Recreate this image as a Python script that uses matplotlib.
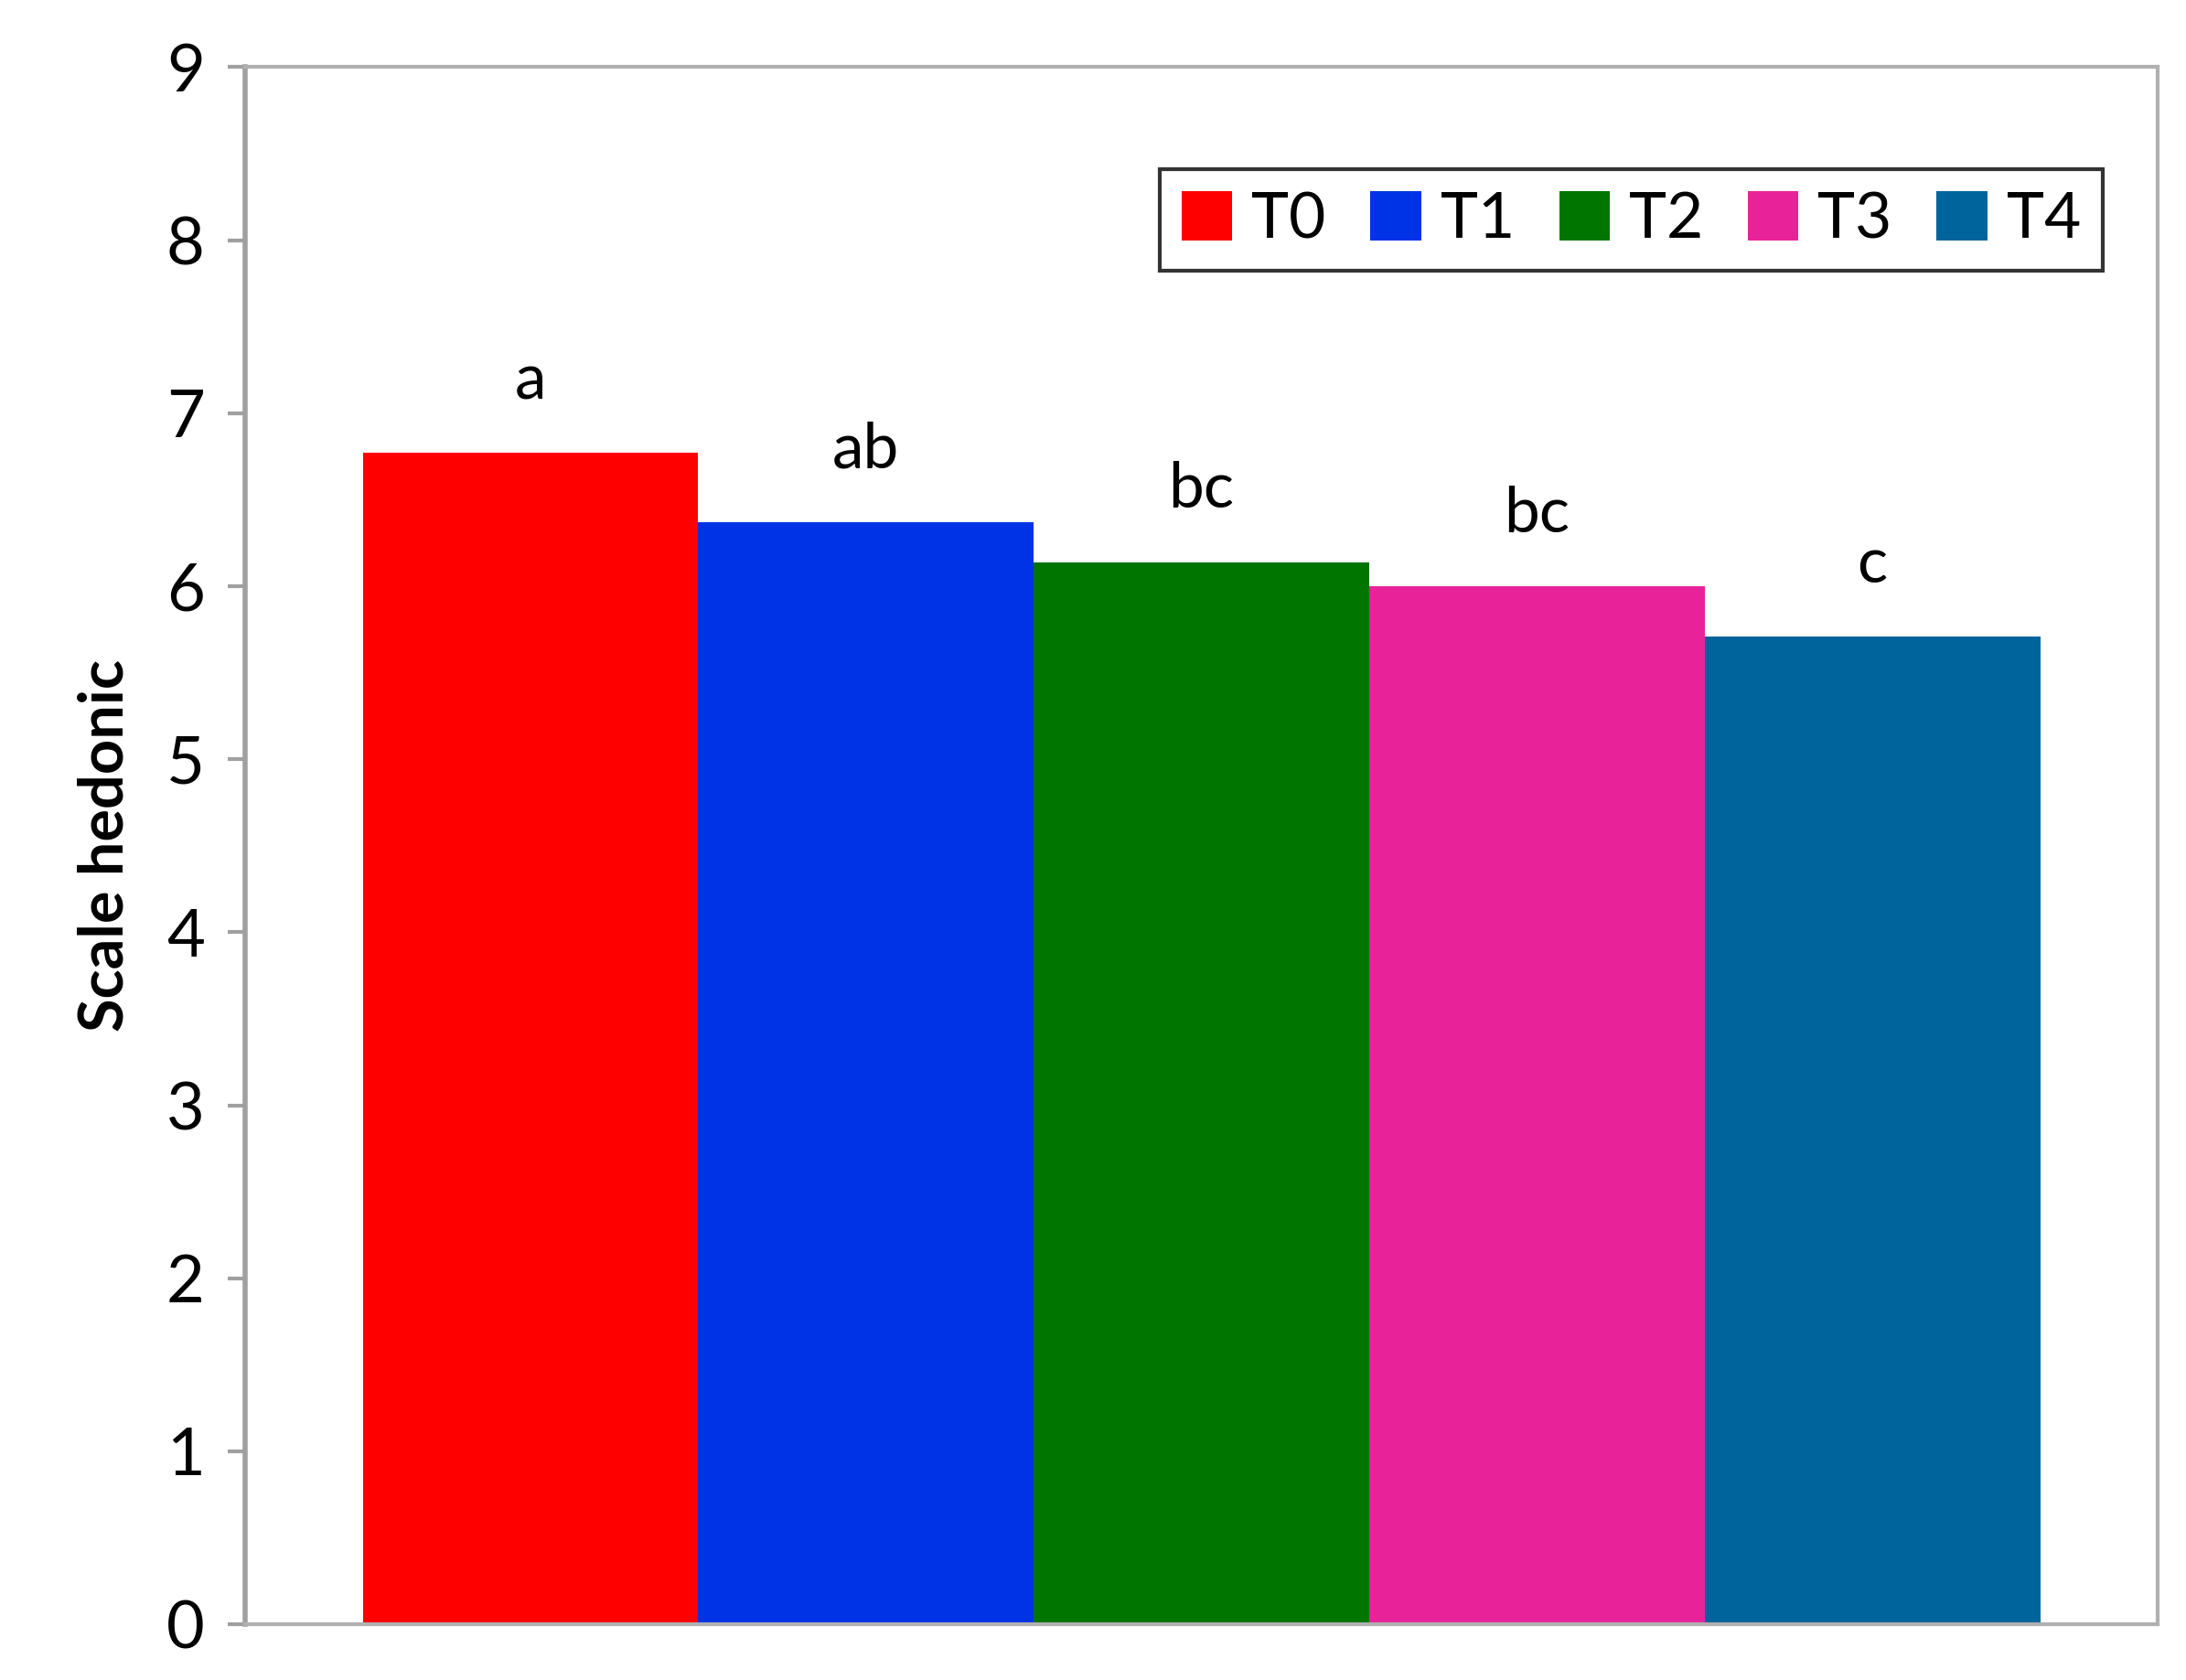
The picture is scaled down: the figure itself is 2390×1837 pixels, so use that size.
import matplotlib
matplotlib.use("Agg")
import matplotlib.pyplot as plt
from matplotlib.patches import Patch

categories = ["T0", "T1", "T2", "T3", "T4"]
values = [6.77, 6.37, 6.14, 6.00, 5.71]
letters = ["a", "ab", "bc", "bc", "c"]
colors = ["#ff0000", "#0033e6", "#007500", "#e8239a", "#00649c"]
yticks = list(range(10))

plt.rcParams['font.family'] = ['Lato', 'DejaVu Sans']
fig = plt.figure(figsize=(23.9, 18.37), dpi=100)
ax = fig.add_axes([0.1122, 0.0332, 0.8748, 0.9268])
x = list(range(len(categories)))
ax.bar(x, values, width=1.0, color=colors)
for xi, v, l in zip(x, values, letters):
    ax.text(xi, v + 0.25, l, ha='center', va='bottom', fontsize=50)
ax.set_xlim(-0.85, 4.85)
ax.set_ylim(0, 9)
ax.set_yticks(yticks)
ax.set_xticks([])
ax.tick_params(axis='y', labelsize=52, length=14, width=3, color='#a0a0a0', pad=18)
for s in ax.spines.values():
    s.set_color('#b0b0b0')
    s.set_linewidth(3)
ax.spines['left'].set_color('#a0a0a0')
ax.spines['left'].set_linewidth(4)
ax.set_ylabel("Scale hedonic", fontsize=48, fontweight='bold', labelpad=25)
handles = [Patch(facecolor=c, label=n) for c, n in zip(colors, categories)]
leg = ax.legend(handles=handles, ncol=5, loc='upper right', bbox_to_anchor=(0.988, 0.955),
                fontsize=50, frameon=True, fancybox=False, handlelength=0.8, handleheight=0.8,
                handletextpad=0.3, columnspacing=0.7, borderpad=0.35)
leg.get_frame().set_edgecolor('black')
leg.get_frame().set_linewidth(3)
fig.savefig("out.png", dpi=100)
